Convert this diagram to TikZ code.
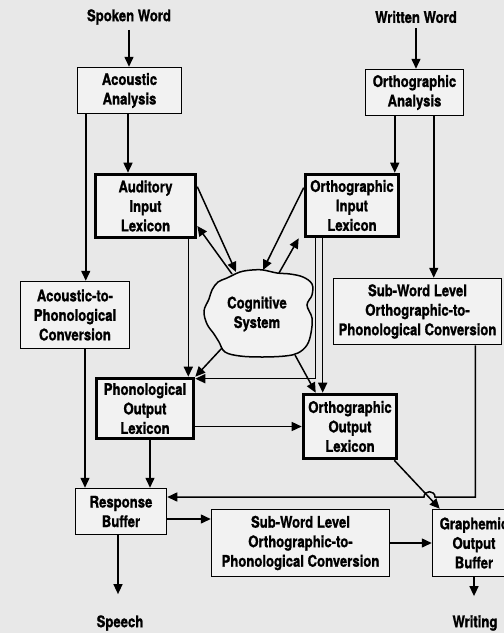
\documentclass[tikz,border=0pt]{standalone}
\usepackage{fontspec}
\setmainfont{TeX Gyre Heros}[FakeStretch=0.82, BoldFeatures={FakeBold=1.2}]
\usetikzlibrary{arrows.meta}

\definecolor{paper}{RGB}{232,232,232}
\definecolor{boxfill}{RGB}{242,242,242}

\tikzset{
  lbl/.style={font=\fontsize{16}{19.5}\selectfont\bfseries, align=center, inner sep=0pt},
  thinbox/.style={lbl, draw, line width=1.5pt, fill=boxfill},
  thickbox/.style={lbl, draw, line width=3.6pt, fill=boxfill},
  arr/.style={line width=1.5pt, -{Triangle[length=10pt,width=9pt]}},
}

\begin{document}
\begin{tikzpicture}[x=1pt, y=-1pt]
  \useasboundingbox (0,0) rectangle (504,633);
  \fill[paper] (0,0) rectangle (504,633);
  \clip (0,0) rectangle (504,633);

  % inputs and outputs
  \node[lbl] (sw) at (129,17) {Spoken Word};
  \node[lbl] (ww) at (416,17) {Written Word};
  \node[lbl] (sp) at (120,623) {Speech};
  \node[lbl] (wr) at (475,623) {Writing};

  % processing components
  \node[thinbox, minimum width=104, minimum height=46] (aa) at (129.5,90.5) {Acoustic\\Analysis};
  \node[thickbox, minimum width=100, minimum height=63] (ail) at (145.5,206) {Auditory\\Input\\Lexicon};
  \node[thinbox, minimum width=109, minimum height=67] (apc) at (75,315) {Acoustic-to-\\Phonological\\Conversion};
  \node[thinbox, minimum width=98, minimum height=46] (oa) at (414.5,92.5) {Orthographic\\Analysis};
  \node[thickbox, minimum width=93, minimum height=62] (oil) at (352,205.5) {Orthographic\\Input\\Lexicon};
  \node[thinbox, minimum width=168, minimum height=66] (swr) at (417.5,311.5) {Sub-Word Level\\Orthographic-to-\\Phonological Conversion};
  \node[thickbox, minimum width=97, minimum height=60] (pol) at (145,408.5) {Phonological\\Output\\Lexicon};
  \node[thickbox, minimum width=93, minimum height=64] (ool) at (350,426.5) {Orthographic\\Output\\Lexicon};
  \node[thinbox, minimum width=91, minimum height=46] (rb) at (121,511.5) {Response\\Buffer};
  \node[thinbox, minimum width=178, minimum height=67] (swl) at (300.5,543) {Sub-Word Level\\Orthographic-to-\\Phonological Conversion};
  \node[thinbox, minimum width=83, minimum height=67] (gob) at (474,543) {Graphemic\\Output\\Buffer};

  % cognitive system cloud
  \draw[line width=1.5pt, fill=boxfill] plot[smooth cycle, tension=0.6] coordinates {
    (227,278) (240,272) (252,270) (263,270) (277,273) (290,274) (303,277)
    (312,284) (312,295) (307,305) (312,318) (311,333) (307,345) (298,353)
    (285,356) (262,357) (240,356) (225,352) (219,342) (214,334) (207,324)
    (204,311) (209,299) (212,290) (218,282)};
  \node[lbl] (cog) at (257,314) {Cognitive\\System};
  \coordinate (cgA) at (236,272);
  \coordinate (cgB) at (232,274);
  \coordinate (cgC) at (263,270);
  \coordinate (cgD) at (279,273);
  \coordinate (cgE) at (222,348);
  \coordinate (cgF) at (295,355);

  % crossing hop above the diagonal
  \coordinate (hopR) at (435,497);
  \coordinate (hopL) at (424,497);

  % connections
  \draw[arr, shorten <=5pt] (sw.south) -- (sw.south |- aa.north);
  \draw[arr, shorten <=5pt] (ww.south) -- (ww.south |- oa.north);
  \draw[arr] ([xshift=-1.5]aa.south) -- ([xshift=-1.5]aa.south |- ail.north);
  \draw[arr] ([xshift=9]aa.south west) -- ([xshift=9]aa.south west |- apc.north);
  \draw[arr] ([xshift=30]oa.south west) -- ([xshift=30]oa.south west |- oil.north);
  \draw[arr] ([xshift=69]oa.south west) -- ([xshift=69]oa.south west |- swr.north);

  \draw[arr] ([yshift=-14]ail.north east) -- (cgA);
  \draw[arr] (cgB) -- ([yshift=-20]ail.east);
  \draw[arr] ([yshift=-15]oil.north west) -- (cgC);
  \draw[arr] (cgD) -- ([xshift=-5]oil.south west);
  \draw[arr] (cgE) -- (pol.north east);
  \draw[arr] (cgF) -- ([xshift=14]ool.north west);

  \draw[arr] ([xshift=-9]ail.south east) -- ([xshift=-9]ail.south east |- pol.north);
  \draw[arr] ([xshift=12]oil.south west) |- ([yshift=-2]pol.north east);
  \draw[arr] ([xshift=19]oil.south west) -- ([xshift=19]oil.south west |- ool.north);

  \draw[arr] (pol.east |- ool.west) -- (ool.west);
  \draw[arr] ([xshift=5]pol.south) -- ([xshift=5]pol.south |- rb.north);
  \draw[arr] ([xshift=10]apc.south) -- ([xshift=10]apc.south |- rb.north);
  \draw[arr, shorten >=21pt] ([xshift=-3]rb.south) -- ([xshift=-3]rb.south |- sp.north);
  \draw[arr] ([yshift=-7.5]rb.east) -- ([yshift=-7.5]rb.east -| swl.west);
  \draw[arr] (swl.east) -- (gob.west);
  \draw[arr, shorten >=19pt] (gob.south) -- (gob.south |- wr.north);

  \draw[arr] ([xshift=-4]ool.south east) -- ([xshift=8]gob.north west);
  \draw[arr] ([xshift=142.5]swr.south west) |- (hopR)
    .. controls ([yshift=7]hopR) and ([yshift=7]hopL) .. (hopL)
    -- (hopL -| rb.east);
\end{tikzpicture}
\end{document}
